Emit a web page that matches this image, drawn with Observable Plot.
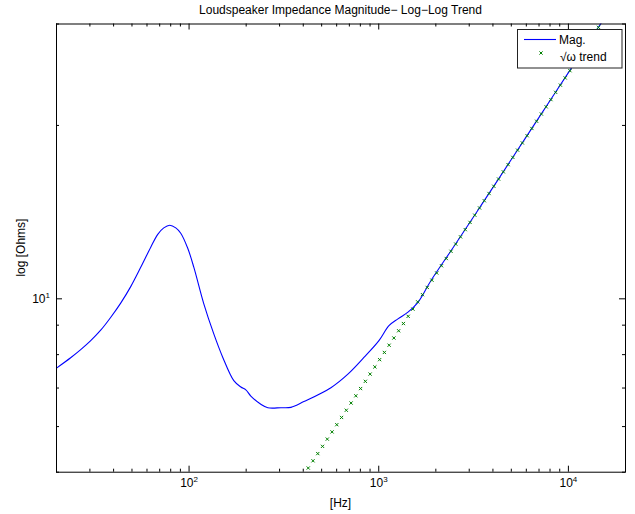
<!DOCTYPE html>
<html><head><meta charset="utf-8">
<script src="https://cdn.jsdelivr.net/npm/d3@7"></script>
<script src="https://cdn.jsdelivr.net/npm/@observablehq/plot@0.6"></script>
<style>body{margin:0;background:#fff;} #chart{width:635px;height:514px;}</style>
</head><body><div id="chart"></div>
<script>
// ---- data ----
const magFreq = [20, 23.75, 26.83, 30.3, 34.2, 38.58, 43.6, 49.24, 55.6, 62.8, 68.37, 73.55, 79.1, 85.1, 90.4, 98.4, 105.9, 119.6, 135, 150.6, 172.1, 187.5, 199.2, 211.7, 238.9, 260.2, 304.8, 344.2, 403, 559.6, 687.8, 835.5, 1002.5, 1132, 1263, 1426, 1610, 1886, 2500, 3500, 5000, 7000, 10000, 14000, 20000];
const magOhms = [7.58, 7.90, 8.16, 8.46, 8.82, 9.28, 9.83, 10.50, 11.34, 12.29, 12.94, 13.28, 13.42, 13.28, 13.0, 12.24, 11.35, 9.80, 8.69, 7.91, 7.21, 7.03, 6.95, 6.78, 6.56, 6.47, 6.47, 6.48, 6.63, 7.01, 7.40, 7.91, 8.46, 8.98, 9.23, 9.48, 9.86, 10.76, 12.35, 14.6, 17.45, 20.65, 24.7, 29.2, 34.9];
const trendFreq = [425, 450.3, 477.0, 505.4, 535.5, 567.3, 601.0, 636.8, 674.6, 714.8, 757.3, 802.3, 850, 900.5, 954.1, 1010.8, 1070.9, 1134.6, 1202.1, 1273.6, 1349.3, 1429.5, 1514.5, 1604.6, 1700, 1801.1, 1908.2, 2021.7, 2141.9, 2269.3, 2404.2, 2547.2, 2698.7, 2859.1, 3029.2, 3209.3, 3400, 3602.2, 3816.4, 4043.3, 4283.8, 4538.5, 4808.4, 5094.3, 5397.2, 5718.1, 6058.2, 6418.5, 6800, 7204.4, 7632.8, 8086.7, 8567.5, 9077, 9616.8, 10188.6, 10794.5, 11436.4, 12116.4, 12836.9, 13600, 14408.7];
const trendOhms = [5.084, 5.233, 5.386, 5.544, 5.707, 5.874, 6.046, 6.223, 6.405, 6.593, 6.786, 6.985, 7.190, 7.401, 7.617, 7.841, 8.070, 8.307, 8.550, 8.801, 9.059, 9.324, 9.597, 9.879, 10.168, 10.466, 10.772, 11.088, 11.413, 11.748, 12.092, 12.446, 12.811, 13.186, 13.572, 13.970, 14.380, 14.801, 15.234, 15.681, 16.141, 16.613, 17.100, 17.601, 18.117, 18.648, 19.194, 19.757, 20.336, 20.932, 21.545, 22.176, 22.826, 23.495, 24.182, 24.891, 25.621, 26.371, 27.143, 27.939, 28.757, 29.600];
const xMajor = [100, 1000, 10000];
const xMinor = [20, 30, 40, 50, 60, 70, 80, 90, 200, 300, 400, 500, 600, 700, 800, 900, 2000, 3000, 4000, 5000, 6000, 7000, 8000, 9000, 20000];
const yMajor = [10];
const yMinor = [5, 6, 7, 8, 9, 20, 30];
const titleText = "Loudspeaker Impedance Magnitude\u2212 Log\u2212Log Trend";
const xLabelText = "[Hz]";
const yLabelText = "log [Ohms]";
const legendLabels = ["Mag.", "\u221A\u03C9 trend"];
const magColor = "#0000ff";
const trendColor = "#008000";

// ---- layout ----
const W = 635, H = 514, mL = 56, mR = 10, mT = 23.5, mB = 42.3;
const innerW = W - mL - mR, innerH = H - mT - mB;
const FONT = "'Liberation Sans', Arial, Helvetica, sans-serif";

const magData = magFreq.map((f, i) => ({f, z: magOhms[i]}));
const trendData = trendFreq.map((f, i) => ({f, z: trendOhms[i]}));
const expFmt = d => "10^" + Math.round(Math.log10(d));

const svg = Plot.plot({
  width: W, height: H,
  marginLeft: mL, marginRight: mR, marginTop: mT, marginBottom: mB,
  x: {type: "log", domain: [20, 20000]},
  y: {type: "log", domain: [5, 30]},
  style: {fontFamily: FONT, fontSize: "12px", color: "black", background: "white"},
  marks: [
    Plot.line(magData, {x: "f", y: "z", stroke: magColor, strokeWidth: 1.1, curve: "catmull-rom", clip: true}),
    Plot.dot(trendData, {x: "f", y: "z", symbol: "times", r: 1.6, stroke: trendColor, strokeWidth: 1, clip: true}),
    // inward ticks, all four sides
    Plot.tickX(xMajor, {x: d => d, stroke: "black", insetTop: innerH - 6}),
    Plot.tickX(xMajor, {x: d => d, stroke: "black", insetBottom: innerH - 6}),
    Plot.tickX(xMinor, {x: d => d, stroke: "black", insetTop: innerH - 3}),
    Plot.tickX(xMinor, {x: d => d, stroke: "black", insetBottom: innerH - 3}),
    Plot.tickY(yMajor, {y: d => d, stroke: "black", insetRight: innerW - 6}),
    Plot.tickY(yMajor, {y: d => d, stroke: "black", insetLeft: innerW - 6}),
    Plot.tickY(yMinor, {y: d => d, stroke: "black", insetRight: innerW - 3}),
    Plot.tickY(yMinor, {y: d => d, stroke: "black", insetLeft: innerW - 3}),
    Plot.frame({stroke: "black", strokeWidth: 1}),
    Plot.axisX(xMajor, {anchor: "bottom", tickSize: 0, tickPadding: 6.5, tickFormat: expFmt, fontSize: 12, label: null}),
    Plot.axisY(yMajor, {anchor: "left", tickSize: 0, tickPadding: 6.5, tickFormat: expFmt, fontSize: 12, label: null})
  ]
});
document.getElementById("chart").appendChild(svg);

const s = d3.select(svg);
// superscript exponents
s.selectAll('[aria-label="x-axis tick label"] text, [aria-label="y-axis tick label"] text').each(function() {
  const t = d3.select(this);
  const parts = t.text().split("^");
  if (parts.length !== 2) return;
  t.text(parts[0]);
  t.append("tspan").attr("dy", "-5").attr("font-size", 8).text(parts[1]);
});

const cx = mL + innerW / 2, cy = mT + innerH / 2;
s.append("text").attr("x", cx).attr("y", 14).attr("text-anchor", "middle")
  .attr("font-family", FONT).attr("font-size", 12).attr("fill", "black").text(titleText);
s.append("text").attr("x", cx).attr("y", 507).attr("text-anchor", "middle")
  .attr("font-family", FONT).attr("font-size", 12).attr("fill", "black").text(xLabelText);
s.append("text").attr("transform", `translate(25,${cy}) rotate(-90)`).attr("text-anchor", "middle")
  .attr("font-family", FONT).attr("font-size", 12).attr("fill", "black").text(yLabelText);

// legend
const lg = s.append("g").attr("font-family", FONT).attr("font-size", 12).attr("text-anchor", "start");
lg.append("rect").attr("x", 517.5).attr("y", 29.5).attr("width", 104.5).attr("height", 38.5)
  .attr("fill", "white").attr("stroke", "#222").attr("stroke-width", 1);
lg.append("line").attr("x1", 524).attr("x2", 556).attr("y1", 39.5).attr("y2", 39.5)
  .attr("stroke", magColor).attr("stroke-width", 1.1);
lg.append("text").attr("x", 559).attr("y", 43.5).attr("fill", "black").attr("text-anchor", "start").text(legendLabels[0]);
lg.append("path").attr("d", "M539.4,51.4L542.6,54.6M539.4,54.6L542.6,51.4")
  .attr("stroke", trendColor).attr("stroke-width", 1);
lg.append("text").attr("x", 560).attr("y", 60.5).attr("fill", "black").attr("text-anchor", "start").text(legendLabels[1]);
</script>
</body></html>
